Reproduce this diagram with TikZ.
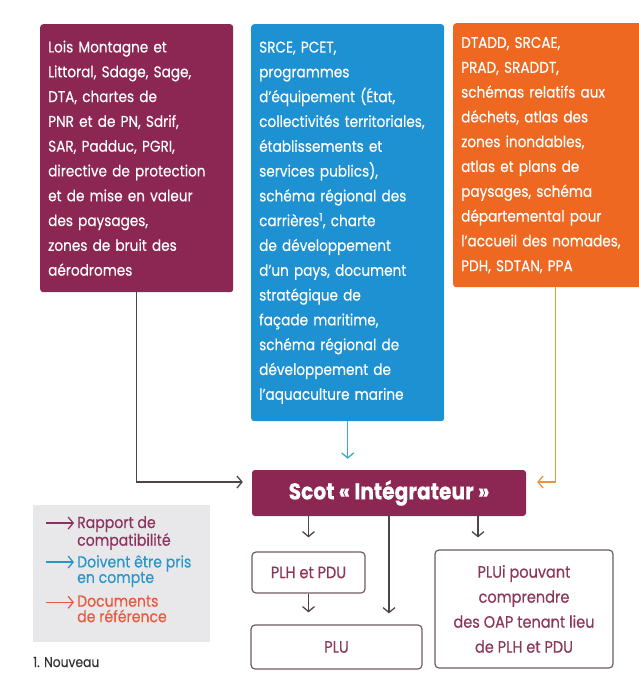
\documentclass[tikz,border=0pt]{standalone}
\usepackage{fontspec}
\setmainfont[FakeStretch=0.88, FakeBold=0.4]{Poppins}
\usepackage{tikz}
\usetikzlibrary{arrows.meta, positioning, calc}

\definecolor{prune}{RGB}{140,38,82}
\definecolor{sky}{RGB}{30,145,210}
\definecolor{tangerine}{RGB}{238,104,34}
\definecolor{arrowgray}{RGB}{80,68,74}
\definecolor{skyline}{RGB}{60,170,200}
\definecolor{tangline}{RGB}{232,150,60}
\definecolor{boxline}{RGB}{110,92,100}
\definecolor{boxtext}{RGB}{140,55,90}
\definecolor{legbg}{RGB}{232,232,235}
\definecolor{legprune}{RGB}{140,50,95}
\definecolor{legsky}{RGB}{40,150,200}
\definecolor{legtang}{RGB}{232,90,60}

\begin{document}
\begin{tikzpicture}[
    x=1pt, y=-1pt,
    node distance=5pt, % legend spacing
    bigbox/.style={
        rectangle,
        anchor=north west,
        rounded corners=3pt,
        text=white,
        align=left,
        inner xsep=8pt,
        font=\fontsize{15.5}{24.8}\selectfont
    },
    smallbox/.style={
        rectangle,
        draw=boxline,
        line width=1.2pt,
        fill=white,
        rounded corners=4pt,
        align=center,
        text=boxtext,
        font=\fontsize{16.5}{25}\selectfont
    },
    legtext/.style={anchor=north west, align=left, inner sep=0pt, font=\fontsize{16}{15.5}\selectfont},
    line/.style={-{Straight Barb[length=5pt,width=12pt]}, line width=1.3pt, draw=arrowgray}
 % arrow style
]
    \useasboundingbox (0,0) rectangle (639,673);

    % source documents
    \node[bigbox, fill=prune, text width=177pt, minimum height=268pt] (lois) at (40,24)
        {Lois Montagne et\\Littoral, Sdage, Sage,\\DTA, chartes de\\PNR et de PN, Sdrif,\\SAR, Padduc, PGRI,\\directive de protection\\et de mise en valeur\\des paysages,\\zones de bruit des\\aérodromes};
    \node[bigbox, fill=sky, text width=177pt, minimum height=397pt] (srce) at (251,24)
        {SRCE, PCET,\\programmes\\d'équipement (État,\\collectivités territoriales,\\établissements et\\services publics),\\schéma régional des\\carrières\textsuperscript{1}, charte\\de développement\\d'un pays, document\\stratégique de\\façade maritime,\\schéma régional de\\développement de\\l'aquaculture marine};
    \node[bigbox, fill=tangerine, text width=180pt, minimum height=264pt] (dtadd) at (453,23)
        {DTADD, SRCAE,\\PRAD, SRADDT,\\schémas relatifs aux\\déchets, atlas des\\zones inondables,\\atlas et plans de\\paysages, schéma\\départemental pour\\l'accueil des nomades,\\PDH, SDTAN, PPA};

    % scot and local plans
    \node[rectangle, fill=prune, rounded corners=3pt, minimum width=274pt, minimum height=46pt,
          text=white, font=\fontsize{23}{26}\selectfont\bfseries] (scot) at (389,493) {Scot « Intégrateur »};
    \node[smallbox, minimum width=113pt, minimum height=41pt] (plh) at (308.5,572.5) {PLH et PDU};
    \node[smallbox, minimum width=171pt, minimum height=44pt] (plu) at (336.5,647) {PLU};
    \node[smallbox, minimum width=178pt, minimum height=118pt] (plui) at (524,609)
        {PLUi pouvant\\comprendre\\des OAP tenant lieu\\de PLH et PDU};

    % legend
    \fill[legbg] (33,505) rectangle (210,642);
    \node[legtext, text=legprune] (leg1) at (77,516) {Rapport de\\compatibilité};
    \node[legtext, text=legsky, below=5pt of leg1.south west, anchor=north west] (leg2) {Doivent être pris\\en compte};
    \node[legtext, text=legtang, below=8pt of leg2.south west, anchor=north west] (leg3) {Documents\\de référence};
    \draw[line, draw=legprune] ([xshift=-31pt,yshift=-7pt]leg1.north west) -- ([xshift=-3pt,yshift=-7pt]leg1.north west);
    \draw[line, draw=legsky] ([xshift=-31pt,yshift=-7pt]leg2.north west) -- ([xshift=-3pt,yshift=-7pt]leg2.north west);
    \draw[line, draw=legtang] ([xshift=-31pt,yshift=-7pt]leg3.north west) -- ([xshift=-3pt,yshift=-7pt]leg3.north west);
    \node[anchor=west, inner sep=0pt, text=black!80, font=\fontsize{14}{16}\selectfont] (nouveau) at (33,662) {1. Nouveau};

    % arrows from edge to edge
    \draw[line, shorten >=9pt] (lois.south) |- ([yshift=11pt]scot.west);
    \draw[line, draw=skyline, shorten >=11pt] (srce.south) -- (srce.south |- scot.north);
    \draw[line, draw=tangline, shorten >=11pt] ([xshift=4.5pt]dtadd.south) |- ([yshift=11pt]scot.east);
    \draw[line, shorten >=14pt] (scot.south -| plh.north) -- (plh.north);
    \draw[line, shorten >=12pt] (plh.south) -- (plh.south |- plu.north);
    \draw[line, shorten >=11pt] (scot.south) -- (scot.south |- plu.north);
    \draw[line, shorten >=12pt] ([xshift=-46pt]scot.south -| plui.north) -- ([xshift=-46pt]plui.north);

\end{tikzpicture}
\end{document}
